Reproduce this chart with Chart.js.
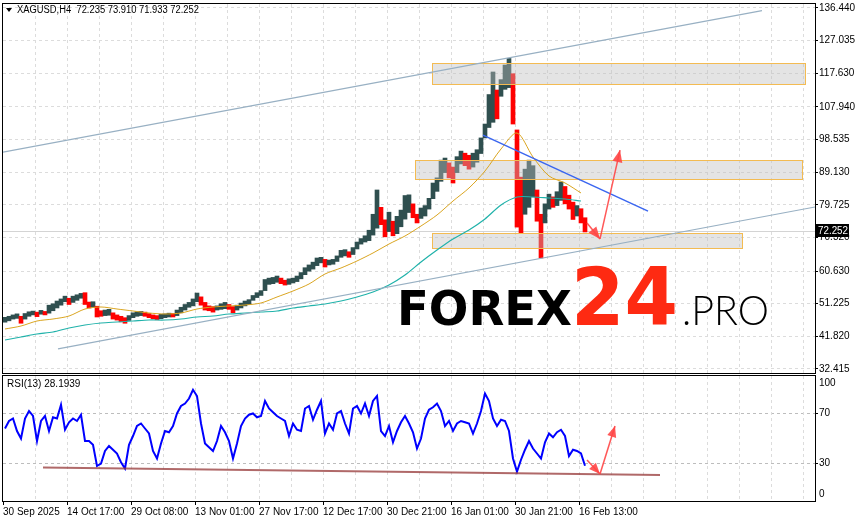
<!DOCTYPE html>
<html>
<head>
<meta charset="utf-8">
<title>XAGUSD H4</title>
<script src="https://cdn.jsdelivr.net/npm/chart.js@4.4.1/dist/chart.umd.min.js"></script>
<style>
  html, body { margin: 0; padding: 0; background: #fff; }
  #wrap { position: relative; width: 855px; height: 521px; overflow: hidden; }
  #priceChart { position: absolute; left: 0; top: 0; }
  #rsiChart { position: absolute; left: 0; top: 375px; }
</style>
</head>
<body>
<div id="wrap">
  <canvas id="priceChart" width="855" height="375"></canvas>
  <canvas id="rsiChart" width="855" height="146"></canvas>
</div>
<script>
// ---- data (one slot = 4 H4 bars) ----
const priceTicks = [136.440, 127.035, 117.630, 107.940, 98.535, 89.130, 79.725, 70.320, 60.630, 51.225, 41.820, 32.415];
const dateLabels = ['30 Sep 2025', '14 Oct 17:00', '29 Oct 08:00', '13 Nov 01:00', '27 Nov 17:00',
                    '12 Dec 17:00', '30 Dec 21:00', '16 Jan 01:00', '30 Jan 21:00', '16 Feb 13:00'];

const barLow = [
  45.9, 46.3, 46.8, 47.0, 45.6, 46.8, 47.6, 48.0, 47.5, 48.2,
  48.0, 48.5, 49.2, 50.0, 50.8, 51.8, 51.0, 51.6, 52.2, 52.8,
  51.0, 50.0, 50.2, 47.4, 47.6, 47.8, 47.9, 46.8, 46.5, 46.0,
  45.6, 46.4, 47.2, 47.6, 47.8, 47.6, 47.2, 46.9, 46.6, 46.9,
  47.2, 47.4, 47.4, 47.8, 48.6, 49.4, 50.2, 50.6, 51.8, 50.8,
  49.4, 49.2, 48.8, 49.4, 49.6, 49.8, 49.6, 48.6, 49.4, 50.0,
  50.6, 51.0, 52.2, 53.0, 53.6, 55.0, 56.8, 57.0, 57.4, 57.0,
  56.6, 56.8, 57.2, 57.6, 58.4, 59.6, 60.6, 61.2, 62.2, 63.0,
  61.8, 62.4, 62.6, 63.4, 64.6, 65.0, 64.6, 65.4, 67.0, 68.4,
  69.0, 69.4, 71.0, 73.0, 74.0, 70.5, 72.0, 70.8, 71.4, 73.4,
  75.6, 77.5, 76.0, 74.5, 75.8, 76.5, 78.5, 81.5, 83.6, 86.5,
  89.0, 87.5, 86.0, 89.0, 91.5, 91.0, 90.0, 90.6, 92.0, 94.5,
  99.0, 102.0, 103.5, 104.5, 111.0, 113.0, 113.5, 103.0, 73.3, 71.6,
  77.0, 79.0, 82.0, 75.0, 64.4, 74.5, 78.5, 79.0, 79.5, 81.0,
  80.0, 78.5, 75.5, 76.5, 74.5, 71.9
];
const barHigh = [
  47.3, 47.6, 48.0, 48.3, 47.6, 48.4, 48.9, 49.1, 48.8, 49.3,
  49.0, 50.8, 51.2, 52.0, 52.6, 53.4, 52.8, 53.4, 53.8, 54.2,
  54.4, 51.7, 51.8, 50.5, 49.2, 49.4, 49.6, 48.6, 48.0, 47.6,
  47.2, 47.8, 48.6, 48.9, 49.0, 48.8, 48.4, 48.0, 47.8, 48.2,
  48.3, 48.5, 48.4, 49.4, 50.2, 51.0, 51.6, 52.6, 54.3, 53.2,
  51.6, 50.6, 50.4, 50.6, 51.2, 51.6, 51.0, 50.4, 50.8, 51.4,
  52.0, 52.4, 53.6, 54.4, 55.0, 58.2, 58.6, 58.8, 59.2, 58.6,
  58.0, 58.4, 58.6, 59.2, 60.2, 61.6, 62.4, 63.2, 64.4, 64.6,
  64.0, 63.8, 64.0, 65.0, 66.6, 66.8, 66.2, 67.4, 69.0, 70.0,
  70.8, 72.4, 77.0, 84.0, 79.0, 75.4, 77.6, 75.0, 76.4, 78.2,
  82.4, 82.6, 80.0, 77.0, 78.8, 79.5, 81.6, 86.0, 87.5, 92.6,
  93.2, 91.8, 90.6, 93.6, 95.2, 94.6, 94.0, 94.6, 95.6, 99.0,
  103.0, 111.5, 118.0, 112.8, 115.8, 120.0, 121.9, 117.5, 101.3, 87.7,
  90.0, 92.6, 91.0, 84.0, 77.0, 80.0, 82.8, 82.0, 83.5, 86.3,
  85.0, 82.5, 80.5, 79.5, 78.6, 76.0
];

// moving averages, one reading every 4 slots
const maGold = [43.94, 44.80, 46.24, 46.82, 47.68, 49.70, 50.28, 49.70, 49.13, 48.55,
                48.26, 48.55, 49.70, 50.28, 50.57, 50.86, 51.44, 53.16, 54.89, 56.91,
                59.79, 61.52, 63.54, 65.84, 68.43, 70.74, 73.62, 76.79, 80.82, 84.57,
                89.47, 95.81, 100.42, 93.50, 88.03, 86.02, 83.13];
const maTeal = [40.77, 41.64, 42.50, 43.08, 44.23, 45.09, 45.67, 45.96, 46.24, 46.53,
                46.53, 46.82, 47.40, 47.68, 48.26, 48.55, 48.84, 49.13, 49.99, 50.57,
                51.15, 52.01, 53.16, 54.60, 56.62, 59.50, 63.25, 66.70, 69.88, 72.47,
                75.64, 79.67, 81.98, 81.98, 81.69, 81.40, 80.82];

const rsiValues = [
  58, 64, 66, 56, 50, 66, 72, 68, 48, 64,
  68, 56, 67, 66, 77, 57, 63, 66, 64, 69,
  48, 48, 45, 28, 30, 40, 44, 41, 38, 31,
  26, 45, 52, 60, 62, 58, 54, 40, 34, 46,
  56, 55, 60, 70, 76, 78, 82, 89, 84, 62,
  46, 43, 40, 48, 60, 55, 48, 34, 46, 60,
  66, 69, 70, 67, 68, 80, 74, 71, 68, 66,
  64, 52, 62, 57, 56, 74, 76, 65, 73, 80,
  54, 62, 57, 70, 72, 62, 54, 74, 76, 70,
  78, 68, 80, 84, 56, 52, 60, 47, 56, 63,
  68, 62, 55, 42, 50, 66, 73, 75, 78, 72,
  60, 64, 56, 62, 64, 63, 62, 54, 62, 72,
  86, 80, 66, 60, 65, 64, 56, 34, 23.5, 33,
  41, 48, 42, 38, 34, 47, 54, 51, 55, 57,
  52, 36, 41, 40, 38, 28.1939
];

// drawn objects: [slot, price] end points
const upperChannel = [[-0.5, 94.9], [189.25, 135.7]];
const lowerChannel = [[13.25, 38.2], [202.5, 79.1]];
const blueTrend = [[119.5, 99.8], [160.75, 77.9]];
const arrowDown = [[145.5, 74.5], [148.75, 69.9]];
const arrowUp = [[148.75, 69.9], [153.75, 95.5]];
const rsiSupport = [[9.5, 26.8], [163.75, 20.8]];
const rsiArrowDown = [[145.5, 32.8], [148.75, 21.6]];
const rsiArrowUp = [[148.75, 21.6], [152.5, 60]];

const zoneStart = [106.75, 102.5, 106.75];
const zoneEnd = [200, 199.25, 184.25];
const zoneTop = [120.6, 92.6, 71.6];
const zoneBottom = [114.5, 87.3, 67.3];

const lastClose = 72.252;

// ---- helpers ----
Chart.defaults.font.family = '"Liberation Sans", Arial, sans-serif';
Chart.defaults.font.size = 10;
Chart.defaults.color = '#000';
Chart.defaults.animation = false;
Chart.defaults.plugins.legend.display = false;
Chart.defaults.plugins.tooltip.enabled = false;

const toPoints = pts => pts.map(p => ({ x: p[0], y: p[1] }));
const lineSet = (pts, color, width, extra) => Object.assign({
  type: 'line', data: toPoints(pts), borderColor: color, borderWidth: width,
  pointRadius: 0, fill: false, tension: 0
}, extra || {});

const vGrid = {
  id: 'vGrid',
  beforeDatasetsDraw(chart) {
    const { ctx, chartArea: a, scales: { x } } = chart;
    ctx.save();
    ctx.strokeStyle = '#dcdcdc';
    ctx.lineWidth = 1;
    ctx.setLineDash([3, 3]);
    for (let k = 1; k <= 25; k++) {
      const px = Math.round(x.getPixelForValue(8 * k - 0.5)) + 0.5;
      ctx.beginPath();
      ctx.moveTo(px, a.top);
      ctx.lineTo(px, a.bottom);
      ctx.stroke();
    }
    ctx.restore();
  }
};

const frame = {
  id: 'frame',
  afterDraw(chart) {
    const { ctx, chartArea: a } = chart;
    ctx.save();
    ctx.strokeStyle = '#000';
    ctx.lineWidth = 1;
    ctx.strokeRect(a.left - 0.5, a.top - 0.5, a.right - a.left + 1, a.bottom - a.top + 1);
    ctx.restore();
  }
};

const arrowHeads = {
  id: 'arrowHeads',
  afterDatasetsDraw(chart) {
    const ctx = chart.ctx;
    chart.data.datasets.forEach((ds, i) => {
      if (!ds.arrow) return;
      const pts = chart.getDatasetMeta(i).data;
      const a = pts[pts.length - 2], b = pts[pts.length - 1];
      const ang = Math.atan2(b.y - a.y, b.x - a.x);
      const len = ds.arrow, w = ds.arrow * 0.42;
      const bx = b.x - len * Math.cos(ang), by = b.y - len * Math.sin(ang);
      ctx.save();
      ctx.fillStyle = ds.borderColor;
      ctx.beginPath();
      ctx.moveTo(b.x, b.y);
      ctx.lineTo(bx + w * Math.sin(ang), by - w * Math.cos(ang));
      ctx.lineTo(bx - w * Math.sin(ang), by + w * Math.cos(ang));
      ctx.closePath();
      ctx.fill();
      ctx.restore();
    });
  }
};

// zones are painted right after the candles, below the lines
const zones = {
  id: 'zones',
  afterDatasetDraw(chart, args) {
    if (args.meta.type !== 'bar') return;
    const { ctx, chartArea: a, scales: { x, y } } = chart;
    ctx.save();
    ctx.beginPath();
    ctx.rect(a.left, a.top, a.right - a.left, a.bottom - a.top);
    ctx.clip();
    zoneStart.forEach((s, i) => {
      const x1 = Math.round(x.getPixelForValue(s)), x2 = Math.round(x.getPixelForValue(zoneEnd[i]));
      const y1 = Math.round(y.getPixelForValue(zoneTop[i])), y2 = Math.round(y.getPixelForValue(zoneBottom[i]));
      ctx.fillStyle = 'rgba(190,190,190,0.42)';
      ctx.fillRect(x1, y1, x2 - x1, y2 - y1);
      ctx.strokeStyle = '#f3bb52';
      ctx.lineWidth = 1;
      ctx.strokeRect(x1 + 0.5, y1 + 0.5, x2 - x1, y2 - y1);
    });
    ctx.restore();
  }
};

const bidLine = {
  id: 'bidLine',
  beforeDatasetsDraw(chart) {
    const { ctx, chartArea: a, scales: { y } } = chart;
    const py = Math.round(y.getPixelForValue(lastClose)) + 0.5;
    ctx.save();
    ctx.strokeStyle = '#d4d4d4';
    ctx.lineWidth = 1;
    ctx.beginPath();
    ctx.moveTo(a.left, py);
    ctx.lineTo(a.right, py);
    ctx.stroke();
    ctx.restore();
  },
  afterDraw(chart) {
    const { ctx, chartArea: a, scales: { y } } = chart;
    const py = Math.round(y.getPixelForValue(lastClose));
    ctx.save();
    ctx.fillStyle = '#000';
    ctx.fillRect(a.right + 1, py - 7, 33, 13);
    ctx.fillStyle = '#fff';
    ctx.font = '10px "Liberation Sans", Arial, sans-serif';
    ctx.textBaseline = 'middle';
    ctx.fillText(lastClose.toFixed(3), a.right + 3, py, 30);
    ctx.restore();
  }
};

function fitText(ctx, text, x, base, width, font, color) {
  ctx.save();
  ctx.font = font;
  const w = ctx.measureText(text).width;
  ctx.translate(x, base);
  ctx.scale(width / w, 1);
  ctx.fillStyle = color;
  ctx.textBaseline = 'alphabetic';
  ctx.fillText(text, 0, 0);
  ctx.restore();
}

const labelsMain = {
  id: 'labelsMain',
  afterDraw(chart) {
    const ctx = chart.ctx;
    // watermark
    fitText(ctx, 'FOREX', 397, 325, 175, 'bold 48px "DejaVu Sans"', '#000');
    fitText(ctx, '24', 571, 325, 107, 'bold 80px "DejaVu Sans"', '#fe2a12');
    fitText(ctx, '.PRO', 682, 325, 87, '300 42px Lato', '#000');
    // title
    ctx.save();
    ctx.fillStyle = '#000';
    ctx.beginPath();
    ctx.moveTo(6, 8); ctx.lineTo(12, 8); ctx.lineTo(9, 12); ctx.closePath();
    ctx.fill();
    ctx.font = '10px "Liberation Sans", Arial, sans-serif';
    ctx.textBaseline = 'middle';
    ctx.fillText('XAGUSD,H4  72.235 73.910 71.933 72.252', 17, 10, 182);
    ctx.restore();
  }
};

const labelsRsi = {
  id: 'labelsRsi',
  afterDraw(chart) {
    const { ctx, chartArea: a } = chart;
    ctx.save();
    ctx.fillStyle = '#000';
    ctx.font = '10px "Liberation Sans", Arial, sans-serif';
    ctx.textBaseline = 'middle';
    ctx.fillText('RSI(13) ' + rsiValues[rsiValues.length - 1].toFixed(4), 7, 9);
    ctx.fillText('100', a.right + 4, a.top + 7);
    ctx.fillText('0', a.right + 4, a.bottom - 7);
    ctx.restore();
  }
};

// ---- price chart ----
const candleColors = barLow.map((lo, i) => {
  const mid = (lo + barHigh[i]) / 2;
  const prev = i ? (barLow[i - 1] + barHigh[i - 1]) / 2 : mid;
  return mid >= prev ? '#2f4f4f' : '#ff0000';
});

new Chart(document.getElementById('priceChart'), {
  type: 'bar',
  data: {
    datasets: [
      lineSet(arrowUp, 'rgba(255,70,70,0.9)', 1.5, { arrow: 12 }),
      lineSet(arrowDown, 'rgba(255,70,70,0.9)', 1.5, { arrow: 12 }),
      lineSet(blueTrend, '#3a66f0', 1.5),
      lineSet(upperChannel, '#98b0c3', 1.2),
      lineSet(lowerChannel, '#98b0c3', 1.2),
      {
        type: 'line', data: maGold.map((v, k) => ({ x: 4 * k, y: v })),
        borderColor: '#daa520', borderWidth: 1, pointRadius: 0, tension: 0.3
      },
      {
        type: 'line', data: maTeal.map((v, k) => ({ x: 4 * k, y: v })),
        borderColor: '#20b2aa', borderWidth: 1.2, pointRadius: 0, tension: 0.3
      },
      {
        type: 'bar', data: barLow.map((lo, i) => ({ x: i, y: [lo, barHigh[i]] })),
        backgroundColor: candleColors, borderWidth: 0, barThickness: 4
      }
    ]
  },
  options: {
    responsive: false,
    layout: { padding: { left: 3, top: 4, right: 0, bottom: 2 } },
    scales: {
      x: { type: 'linear', min: -0.5, max: 202.5, display: false, offset: false },
      y: {
        position: 'right', min: 31.26, max: 137.59,
        afterBuildTicks: s => { s.ticks = priceTicks.map(v => ({ value: v })); },
        afterFit: s => { s.width = 40; s.paddingTop = 0; s.paddingBottom = 0; },
        ticks: { padding: 1, callback: v => v.toFixed(3) },
        grid: { color: '#dcdcdc', tickColor: '#000', tickLength: 3 },
        border: { display: false, dash: [3, 3] }
      }
    }
  },
  plugins: [vGrid, bidLine, zones, arrowHeads, labelsMain, frame]
});

// ---- RSI chart ----
new Chart(document.getElementById('rsiChart'), {
  type: 'line',
  data: {
    datasets: [
      lineSet(rsiArrowUp, 'rgba(255,70,70,0.9)', 1.5, { arrow: 11 }),
      lineSet(rsiArrowDown, 'rgba(255,70,70,0.9)', 1.5, { arrow: 11 }),
      lineSet(rsiSupport, 'rgba(150,55,55,0.75)', 2),
      {
        data: rsiValues.map((v, i) => ({ x: i, y: v })),
        borderColor: '#0000ff', borderWidth: 2, pointRadius: 0, tension: 0
      }
    ]
  },
  options: {
    responsive: false,
    layout: { padding: { left: 3, top: 1, right: 0, bottom: 0 } },
    scales: {
      x: {
        type: 'linear', min: -0.5, max: 202.5,
        afterBuildTicks: s => { s.ticks = dateLabels.map((_, k) => ({ value: 16 * k - 0.5 })); },
        afterFit: s => { s.height = 20; s.paddingLeft = 0; s.paddingRight = 0; },
        ticks: { align: 'start', autoSkip: false, maxRotation: 0, padding: 1,
                 callback: (v, i) => dateLabels[i] },
        grid: { drawOnChartArea: false, tickColor: '#000', tickLength: 4 },
        border: { display: false }
      },
      y: {
        position: 'right', min: 0, max: 100,
        afterBuildTicks: s => { s.ticks = [{ value: 30 }, { value: 70 }]; },
        afterFit: s => { s.width = 40; s.paddingTop = 0; s.paddingBottom = 0; },
        ticks: { padding: 1 },
        grid: { color: '#bdbdbd', tickColor: '#000', tickLength: 3 },
        border: { display: false, dash: [3, 3] }
      }
    }
  },
  plugins: [vGrid, arrowHeads, labelsRsi, frame]
});
</script>
</body>
</html>
